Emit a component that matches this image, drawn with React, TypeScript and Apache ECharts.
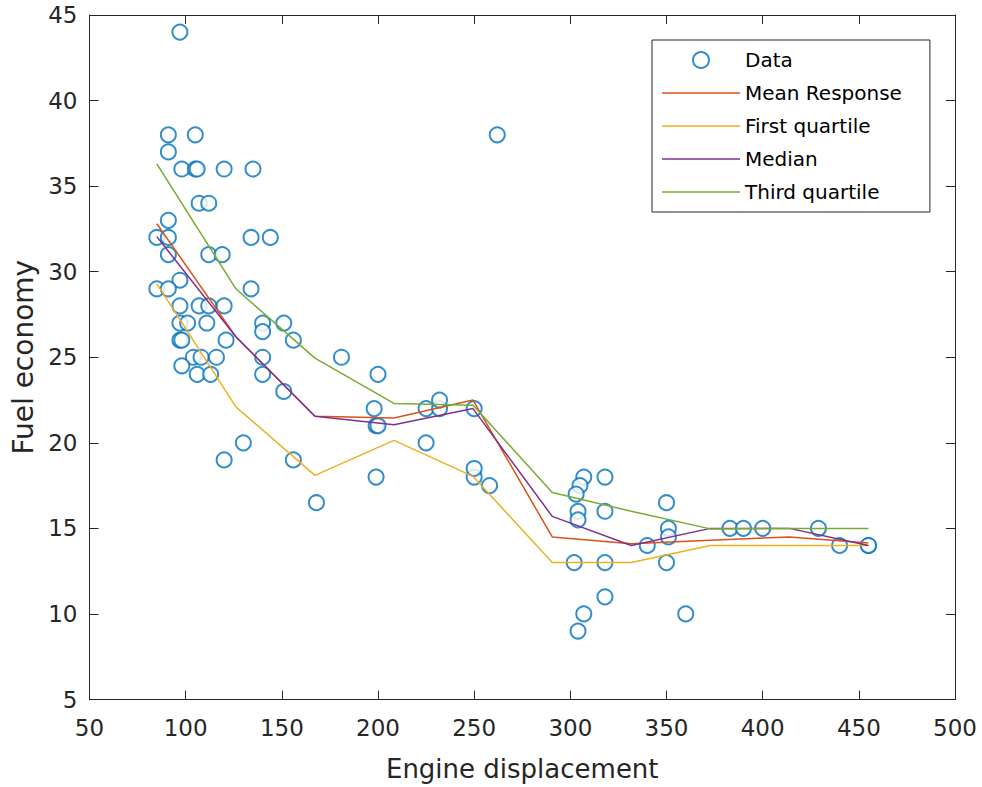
import React, { useEffect, useRef } from "react";
import * as echarts from "echarts";

const displacement = [97, 91, 105, 91, 98, 105, 106, 120, 135, 107, 112, 91, 85, 91, 134, 144, 91, 112, 119,
  97, 85, 91, 134, 97, 107, 112, 120, 97, 101, 111, 140, 151, 140, 97, 98, 121, 156, 104, 108, 116, 140, 98, 106, 113, 140, 151, 130, 120, 156,
  181, 200, 198, 225, 232, 250, 232, 199, 200, 225, 199, 250, 250, 258, 168,
  307, 305, 303, 318, 304, 304, 318, 350, 351, 351, 340, 383, 390, 400, 429, 440, 455, 455, 302, 318, 350, 318, 307, 360, 304,
  262];
const mpg = [44, 38, 38, 37, 36, 36, 36, 36, 36, 34, 34, 33, 32, 32, 32, 32, 31, 31, 31,
  29.5, 29, 29, 29, 28, 28, 28, 28, 27, 27, 27, 27, 27, 26.5, 26, 26, 26, 26, 25, 25, 25, 25, 24.5, 24, 24, 24, 23, 20, 19, 19,
  25, 24, 22, 22, 22, 22, 22.5, 21, 21, 20, 18, 18, 18.5, 17.5, 16.5,
  18, 17.5, 17, 18, 16, 15.5, 16, 16.5, 15, 14.5, 14, 15, 15, 15, 15, 14, 14, 14, 13, 13, 13, 11, 10, 10, 9,
  38];

const curveX = [85, 126.1, 167.2, 208.3, 249.4, 290.6, 331.7, 372.8, 413.9, 455];
const meanResp = [32.8, 26.2, 21.55, 21.45, 22.5, 14.5, 14.1, 14.3, 14.5, 14.15];
const firstQuartile = [29.3, 22.1, 18.1, 20.14, 18.04, 13.0, 13.0, 14.0, 14.0, 14.0];
const medianResp = [32.05, 26.2, 21.55, 21.05, 22.0, 15.7, 14.0, 15.0, 15.0, 14.0];
const thirdQuartile = [36.3, 29.0, 24.95, 22.3, 22.2, 17.1, 16.0, 14.97, 15.0, 15.0];

const xTicks = { min: 50, max: 500, interval: 50 };
const yTicks = { min: 5, max: 45, interval: 5 };

const FONT = "DejaVu Sans";
const AX = "#262626";
const LINE_ICON = "path://M0 0 H78 V1.5 H0 Z";

export default function App() {
  const ref = useRef<HTMLDivElement>(null);
  useEffect(() => {
    if (!ref.current) return;
    const chart = echarts.init(ref.current, undefined, { renderer: "svg" });
    const zip = (xs: number[], ys: number[]) => xs.map((x, i) => [x, ys[i]]);
    const axisCommon = {
      type: "value" as const,
      axisLine: { show: true, lineStyle: { color: AX, width: 1 } },
      axisTick: { show: true, inside: true, length: 9, lineStyle: { color: AX } },
      splitLine: { show: false },
    };
    const lineSeries = (name: string, data: number[], color: string) => ({
      name,
      type: "line",
      data: zip(curveX, data),
      symbol: "none",
      lineStyle: { color, width: 1.5 },
      itemStyle: { color },
      z: 3,
    });
    chart.setOption({
      animation: false,
      backgroundColor: "#fff",
      grid: { left: 89.5, right: 27, top: 15, bottom: 87.5 },
      xAxis: [
        {
          ...axisCommon,
          ...xTicks,
          position: "bottom",
          name: "Engine displacement",
          nameLocation: "middle",
          nameGap: 56,
          nameTextStyle: { fontSize: 26, color: AX, fontFamily: FONT },
          axisLabel: { fontSize: 23, color: AX, fontFamily: FONT, margin: 17 },
        },
        {
          ...axisCommon,
          ...xTicks,
          position: "top",
          axisLabel: { show: false },
        },
      ],
      yAxis: [
        {
          ...axisCommon,
          ...yTicks,
          position: "left",
          name: "Fuel economy",
          nameLocation: "middle",
          nameGap: 52,
          nameTextStyle: { fontSize: 28, color: AX, fontFamily: FONT },
          axisLabel: { fontSize: 23, color: AX, fontFamily: FONT, margin: 12 },
        },
        {
          ...axisCommon,
          ...yTicks,
          position: "right",
          axisLabel: { show: false },
        },
      ],
      legend: {
        orient: "vertical",
        left: 652,
        top: 40,
        itemWidth: 78,
        itemHeight: 16,
        itemGap: 13,
        padding: [10, 28, 10, 10],
        borderColor: AX,
        borderWidth: 1,
        borderRadius: 0,
        backgroundColor: "#fff",
        symbolKeepAspect: true,
        textStyle: { fontSize: 20, color: "#000", fontFamily: FONT, lineHeight: 20 },
        data: [
          { name: "Data" },
          { name: "Mean Response", icon: LINE_ICON },
          { name: "First quartile", icon: LINE_ICON },
          { name: "Median", icon: LINE_ICON },
          { name: "Third quartile", icon: LINE_ICON },
        ],
      },
      series: [
        {
          name: "Data",
          type: "scatter",
          data: zip(displacement, mpg),
          symbol: "emptyCircle",
          symbolSize: 15,
          itemStyle: { color: "#0072BD", borderColor: "#0072BD", borderWidth: 1.5 },
          z: 2,
        },
        lineSeries("Mean Response", meanResp, "#D95319"),
        lineSeries("First quartile", firstQuartile, "#EDB120"),
        lineSeries("Median", medianResp, "#7E2F8E"),
        lineSeries("Third quartile", thirdQuartile, "#77AC30"),
      ],
    });
    return () => chart.dispose();
  }, []);
  return <div ref={ref} style={{ width: 982, height: 787, position: "absolute", left: 0, top: 0 }} />;
}
